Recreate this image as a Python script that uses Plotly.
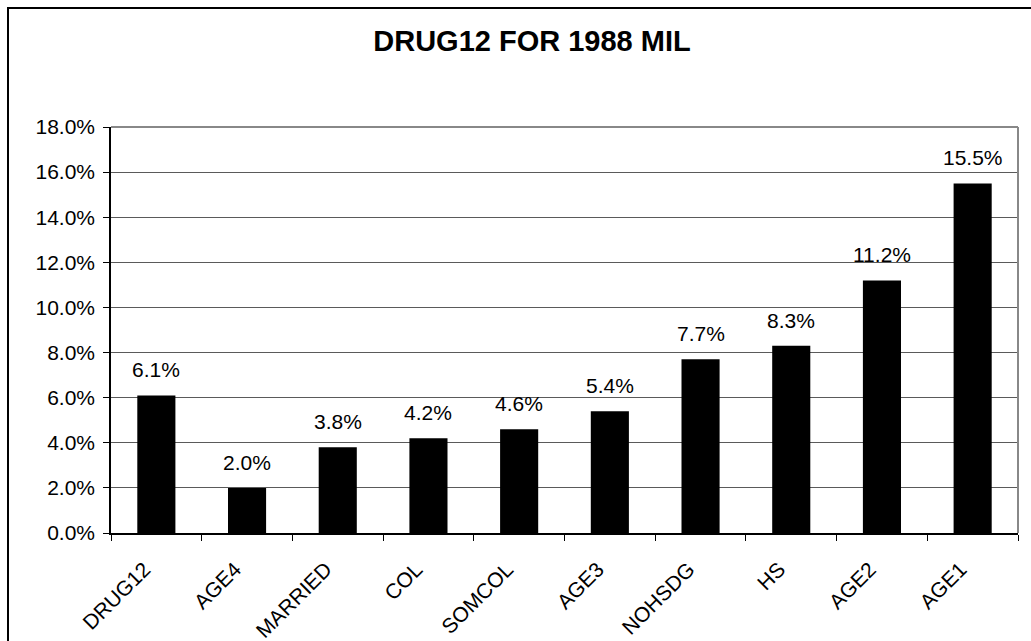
import plotly.graph_objects as go

categories = ["DRUG12", "AGE4", "MARRIED", "COL", "SOMCOL", "AGE3", "NOHSDG", "HS", "AGE2", "AGE1"]
values = [6.1, 2.0, 3.8, 4.2, 4.6, 5.4, 7.7, 8.3, 11.2, 15.5]
labels = ["6.1%", "2.0%", "3.8%", "4.2%", "4.6%", "5.4%", "7.7%", "8.3%", "11.2%", "15.5%"]
y_ticks = [0, 2, 4, 6, 8, 10, 12, 14, 16, 18]
y_tick_text = ["0.0%", "2.0%", "4.0%", "6.0%", "8.0%", "10.0%", "12.0%", "14.0%", "16.0%", "18.0%"]

W, H = 1031, 641
L, R, T, B = 111, 13, 127, 108
pw, ph = W - L - R, H - T - B

font = "Liberation Sans, Arial, sans-serif"

fig = go.Figure(go.Bar(
    x=categories, y=values,
    marker=dict(color="black", line=dict(width=0)),
    width=0.42, hoverinfo="x+y",
))

for c, v, t in zip(categories, values, labels):
    fig.add_annotation(x=c, y=v, text=t, showarrow=False, yanchor="bottom", yshift=12,
                       font=dict(size=21, color="black", family=font))

def px_x(p):
    return (p - L) / pw

def px_y(p):
    return 1 - (p - T) / ph

fig.update_layout(
    width=W, height=H,
    margin=dict(l=L, r=R, t=T, b=B),
    paper_bgcolor="white", plot_bgcolor="white",
    font=dict(family=font, size=21, color="black"),
    showlegend=False,
    title=dict(text="<b>DRUG12 FOR 1988 MIL</b>", x=532 / W, xref="container", xanchor="center",
               y=1 - 41 / H, yref="container", yanchor="middle",
               font=dict(size=29, family=font, color="black")),
    xaxis=dict(
        tickangle=-45, tickfont=dict(size=21), showgrid=False, automargin=False,
        ticks="outside", tickson="boundaries", ticklen=6, tickcolor="black",
        ticklabelstandoff=14, ticklabelshift=-12,
        showline=True, linecolor="black", linewidth=1.5, range=[-0.5, 9.5],
    ),
    yaxis=dict(
        range=[0, 18], tickvals=y_ticks, ticktext=y_tick_text, tickfont=dict(size=21),
        ticks="outside", ticklen=6, tickcolor="black", automargin=False,
        ticklabelstandoff=4,
        showgrid=True, gridcolor="#5a5a5a", gridwidth=1,
        showline=True, linecolor="black", linewidth=1.5, zeroline=False,
    ),
    shapes=[
        dict(type="line", xref="paper", yref="paper", x0=0, x1=1, y0=1, y1=1,
             line=dict(color="#888888", width=2)),
        dict(type="line", xref="paper", yref="paper", x0=1, x1=1, y0=0, y1=1,
             line=dict(color="#888888", width=2)),
        dict(type="rect", xref="paper", yref="paper",
             x0=px_x(8), x1=px_x(1060), y0=px_y(8), y1=px_y(680),
             line=dict(color="black", width=2), fillcolor="rgba(0,0,0,0)", layer="above"),
    ],
)

fig.write_html("out.html")
